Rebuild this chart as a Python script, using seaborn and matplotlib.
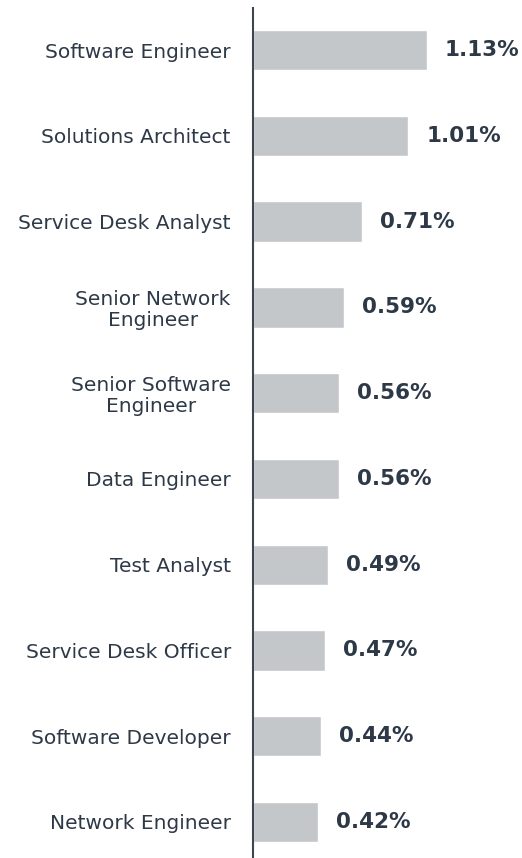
import matplotlib
matplotlib.use('Agg')
import matplotlib.pyplot as plt
import pandas as pd
import seaborn as sns

# Job titles and their share
roles = ['Software Engineer', 'Solutions Architect', 'Service Desk Analyst',
         'Senior Network\nEngineer', 'Senior Software\nEngineer', 'Data Engineer',
         'Test Analyst', 'Service Desk Officer', 'Software Developer',
         'Network Engineer']
shares = [1.13, 1.01, 0.71, 0.59, 0.56, 0.56, 0.49, 0.47, 0.44, 0.42]

df = pd.DataFrame({'Role': roles, 'Share': shares})

sns.set_style('white')
plt.rcParams['font.family'] = ['DejaVu Sans']

text_color = '#2e3947'
bar_color = '#c4c7ca'

fig = plt.figure(figsize=(5.22, 8.58), dpi=100)
ax = fig.add_axes([253 / 522, 0, 1 - 253 / 522, (858 - 8) / 858])

sns.barplot(data=df, x='Share', y='Role', orient='h', color=bar_color,
            width=0.47, saturation=1, ax=ax)

ax.set_xlim(0, 1.75)
ax.set_ylim(9.42, -0.49)

for i, v in enumerate(shares):
    ax.annotate(f'{v:.2f}%', xy=(v, i), xytext=(13, 0), textcoords='offset points',
                ha='left', va='center', fontsize=15.5, fontweight='bold',
                color=text_color)

ax.set_xlabel('')
ax.set_ylabel('')
ax.set_xticks([])
ax.tick_params(axis='y', length=0, pad=16, labelsize=14.5, labelcolor=text_color)
for lbl in ax.get_yticklabels():
    lbl.set_horizontalalignment('right')
    lbl.set_multialignment('center')
    lbl.set_linespacing(1.1)

for side in ['top', 'right', 'bottom']:
    ax.spines[side].set_visible(False)
ax.spines['left'].set_color('#3d4650')
ax.spines['left'].set_linewidth(1.5)

fig.savefig('out.png', dpi=100)
